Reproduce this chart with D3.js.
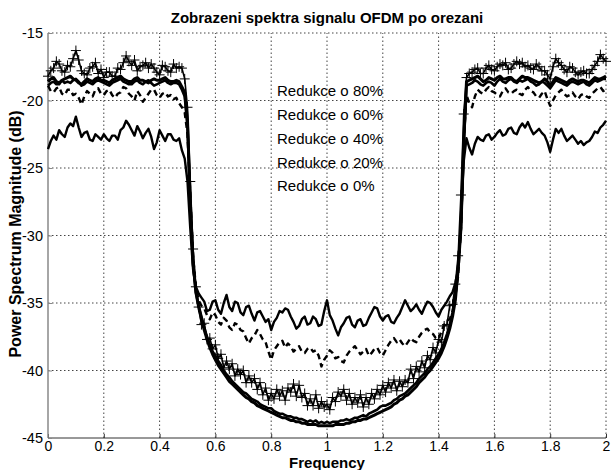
<!DOCTYPE html>
<html>
<head>
<meta charset="utf-8">
<script src="https://cdn.jsdelivr.net/npm/d3@7"></script>
<style>
body { margin: 0; background: #fff; }
text { font-family: "Liberation Sans", Arial, sans-serif; }
</style>
</head>
<body>
<script>
// frequency grid step (0 .. 2), one value per step in every series
var freqStep = 0.01;

// Redukce o 80% (solid, lowest in the passband)
var s80 = [
  -23.6, -23.0, -22.6, -22.9, -22.2, -22.5, -22.7, -22.0, -21.7, -21.9,
  -21.2, -22.0, -22.7, -22.4, -22.3, -22.9, -23.0, -22.5, -22.7, -22.9,
  -22.5, -22.8, -23.0, -22.6, -22.6, -22.9, -22.2, -22.0, -21.5, -21.8,
  -22.2, -22.6, -21.9, -22.3, -22.8, -22.4, -22.1, -22.7, -23.6, -23.1,
  -22.2, -22.6, -23.0, -22.5, -22.5, -22.9, -23.0, -22.8, -23.7, -24.3,
  -26.0, -29.5, -32.5, -33.8, -34.3, -34.6, -34.9, -35.6, -35.5, -34.9,
  -34.8, -35.5, -35.8, -35.0, -34.4, -35.3, -35.6, -34.9, -35.0, -35.7,
  -35.9, -35.3, -35.2, -35.8, -36.3, -35.7, -35.6, -36.0, -36.4, -36.2,
  -37.0, -36.4, -36.1, -35.6, -35.7, -35.4, -35.5, -36.0, -36.4, -36.9,
  -36.7, -36.2, -36.0, -36.6, -36.5, -36.0, -36.2, -36.7, -36.6, -35.6,
  -34.8, -35.9, -36.3, -36.9, -37.4, -36.8, -36.5, -36.1, -36.0, -36.6,
  -36.8, -36.3, -36.2, -36.7, -36.6, -36.1, -35.7, -35.3, -35.4, -36.0,
  -36.3, -36.0, -35.9, -36.4, -36.5, -36.1, -35.8, -35.3, -34.8, -35.2,
  -35.6, -35.4, -35.1, -35.5, -35.8, -35.3, -34.9, -35.0, -35.3, -35.7,
  -36.0, -35.5, -35.2, -34.9, -34.5, -34.2, -33.5, -32.5, -29.0, -24.5,
  -22.8, -23.5, -24.0, -23.2, -22.7, -22.9, -23.0, -22.6, -22.5, -22.9,
  -22.7, -22.4, -22.2, -22.6, -22.5, -22.1, -22.0, -22.4, -22.5, -22.0,
  -21.7, -22.0, -21.6, -22.1, -22.5, -22.3, -22.1, -22.4, -22.6, -23.1,
  -23.8, -22.9, -22.1, -22.4, -22.1, -22.6, -23.0, -22.8, -22.6, -22.9,
  -23.2, -23.0, -23.3, -23.1, -23.0, -22.7, -22.3, -22.4, -22.0, -21.8,
  -21.5
];

// Redukce o 60% (dashed)
var s60 = [
  -18.9, -19.3, -19.4, -19.1, -19.0, -19.5, -19.6, -19.2, -19.2, -19.6,
  -19.5, -19.8, -20.3, -19.7, -19.3, -19.5, -19.7, -19.2, -19.1, -19.5,
  -19.6, -19.3, -19.2, -19.6, -19.8, -19.5, -19.4, -19.0, -19.1, -19.5,
  -19.7, -20.0, -19.3, -19.6, -20.1, -19.8, -19.5, -19.2, -19.2, -19.6,
  -19.8, -19.5, -19.4, -19.7, -19.6, -19.9, -19.8, -20.2, -20.5, -20.9,
  -22.5, -27.0, -31.5, -33.8, -34.8, -35.2, -35.4, -35.9, -36.2, -35.7,
  -35.9, -36.4, -36.6, -36.1, -36.3, -36.8, -37.0, -36.5, -36.6, -37.0,
  -37.1, -37.6, -38.0, -37.6, -37.4, -37.0, -37.3, -37.7, -37.9, -38.6,
  -39.2, -38.5, -38.2, -37.9, -37.8, -38.3, -38.0, -38.2, -38.6, -38.4,
  -38.2, -38.6, -38.7, -38.4, -38.3, -38.6, -38.5, -38.9, -39.7, -39.2,
  -38.9, -38.5, -38.7, -39.1, -39.0, -39.3, -39.4, -38.9, -38.6, -38.4,
  -38.2, -38.5, -38.8, -38.6, -38.4, -38.9, -38.7, -38.4, -38.3, -38.7,
  -38.9, -38.5, -38.1, -37.8, -37.6, -37.9, -37.7, -38.0, -38.2, -37.9,
  -37.6, -37.8, -37.9, -37.5, -37.2, -37.0, -36.9, -37.2, -37.3, -37.6,
  -37.7, -37.1, -36.6, -36.3, -36.2, -35.6, -34.5, -33.0, -29.5, -23.0,
  -19.6, -20.2, -20.5, -19.7, -19.2, -19.4, -19.5, -19.2, -19.0, -19.3,
  -19.4, -19.6, -19.7, -19.3, -19.1, -19.4, -19.5, -19.3, -19.2, -19.5,
  -19.6, -19.2, -19.0, -19.3, -19.4, -19.7, -19.8, -19.5, -19.3, -19.9,
  -20.4, -20.0, -19.6, -19.4, -19.2, -19.5, -19.7, -19.6, -19.4, -19.7,
  -19.9, -19.6, -19.5, -19.7, -19.8, -19.5, -19.3, -19.1, -19.0, -19.3,
  -19.2
];

// Redukce o 40% (solid with + markers)
var s40 = [
  -18.2, -17.8, -17.6, -17.1, -17.3, -17.8, -17.9, -17.4, -17.5, -16.9,
  -16.3, -17.0, -17.8, -18.0, -18.1, -17.6, -17.5, -17.2, -18.0, -17.7,
  -18.3, -17.9, -17.9, -18.2, -18.2, -17.6, -17.7, -17.2, -16.7, -17.1,
  -17.4, -17.0, -17.8, -17.5, -17.4, -17.2, -17.6, -17.3, -17.6, -17.9,
  -18.1, -17.4, -17.5, -17.8, -17.9, -17.3, -17.6, -17.5, -17.6, -18.4,
  -20.5, -26.0, -31.0, -33.8, -35.3, -36.6, -36.5, -37.7, -37.6, -38.4,
  -38.1, -39.1, -38.8, -39.8, -39.3, -39.9, -39.5, -40.4, -39.9, -40.3,
  -40.0, -40.9, -40.4, -40.9, -40.6, -41.4, -40.9, -41.8, -41.3, -42.2,
  -41.7, -42.1, -41.4, -41.9, -41.5, -42.2, -41.3, -41.6, -41.0, -41.9,
  -41.1, -42.0, -41.7, -42.6, -42.1, -42.6, -41.8, -42.8, -42.3, -42.7,
  -42.5, -42.9, -42.0, -42.3, -41.6, -41.9, -41.4, -42.2, -41.7, -42.5,
  -42.0, -42.4, -41.8, -42.7, -42.0, -42.5, -41.7, -42.1, -41.4, -41.8,
  -41.1, -41.6, -40.9, -41.3, -40.7, -41.5, -40.8, -41.2, -40.7, -40.9,
  -39.9, -40.6, -39.7, -40.1, -39.3, -39.8, -38.9, -39.2, -38.3, -38.7,
  -37.7, -37.9, -36.7, -36.6, -35.2, -35.1, -33.6, -31.5, -27.0, -21.0,
  -18.3, -18.0, -17.9, -17.7, -17.6, -18.0, -18.0, -17.6, -17.4, -17.7,
  -17.8, -17.5, -17.3, -17.4, -17.2, -17.7, -17.6, -17.3, -17.1, -17.3,
  -17.2, -17.5, -17.4, -17.6, -17.7, -17.3, -17.5, -17.8, -17.8, -18.1,
  -18.4, -17.5, -16.9, -17.2, -17.4, -17.7, -17.9, -17.5, -17.6, -17.9,
  -18.1, -17.9, -17.8, -18.0, -18.0, -17.7, -17.4, -17.1, -16.6, -16.9,
  -17.1
];

// Redukce o 20% (solid, just above the bowl)
var s20 = [
  -18.9, -18.7, -18.6, -18.8, -18.8, -18.5, -18.7, -18.6, -18.7, -18.5,
  -18.4, -18.6, -18.9, -18.8, -18.6, -18.7, -18.8, -18.6, -18.5, -18.6,
  -18.7, -18.8, -18.9, -18.7, -18.6, -18.5, -18.4, -18.6, -18.7, -18.8,
  -18.8, -18.6, -18.5, -18.7, -18.8, -18.6, -18.5, -18.7, -18.9, -18.8,
  -18.7, -18.6, -18.5, -18.7, -18.8, -18.7, -18.7, -18.8, -19.2, -19.7,
  -22.0, -27.8, -32.2, -34.2, -35.2, -36.0, -36.8, -37.5, -38.1, -38.6,
  -38.9, -39.3, -39.6, -40.0, -40.3, -40.5, -40.8, -41.0, -41.2, -41.4,
  -41.6, -41.7, -41.9, -42.1, -42.2, -42.3, -42.5, -42.6, -42.7, -42.8,
  -42.8, -43.0, -43.1, -43.2, -43.2, -43.3, -43.4, -43.4, -43.5, -43.5,
  -43.6, -43.6, -43.7, -43.8, -43.7, -43.8, -43.7, -43.9, -43.8, -43.9,
  -43.8, -43.9, -43.8, -43.8, -43.8, -43.7, -43.7, -43.6, -43.7, -43.6,
  -43.5, -43.5, -43.4, -43.3, -43.4, -43.2, -43.1, -43.0, -42.9, -42.7,
  -42.6, -42.6, -42.5, -42.4, -42.2, -42.1, -41.9, -41.8, -41.7, -41.5,
  -41.3, -41.1, -40.9, -40.6, -40.4, -40.2, -39.9, -39.7, -39.4, -39.1,
  -38.8, -38.4, -37.9, -37.3, -36.6, -35.7, -34.5, -32.3, -29.5, -23.5,
  -18.9, -18.8, -18.7, -18.5, -18.6, -18.8, -18.9, -18.7, -18.6, -18.7,
  -18.9, -18.6, -18.4, -18.6, -18.7, -18.5, -18.4, -18.6, -18.7, -18.5,
  -18.6, -18.5, -18.4, -18.6, -18.7, -18.9, -18.8, -18.6, -18.7, -18.9,
  -19.1, -18.8, -18.5, -18.6, -18.7, -18.8, -18.9, -18.7, -18.6, -18.7,
  -18.8, -18.7, -18.6, -18.8, -18.9, -18.7, -18.5, -18.6, -18.5, -18.4,
  -18.4
];

// Redukce o 0% (thick bowl)
var s0 = [
  -18.6, -18.4, -18.3, -18.6, -18.7, -18.5, -18.4, -18.3, -18.2, -18.4,
  -18.5, -18.7, -18.8, -18.6, -18.4, -18.5, -18.6, -18.4, -18.3, -18.5,
  -18.5, -18.6, -18.7, -18.5, -18.4, -18.3, -18.2, -18.4, -18.5, -18.6,
  -18.6, -18.4, -18.3, -18.5, -18.5, -18.6, -18.7, -18.5, -18.4, -18.5,
  -18.5, -18.4, -18.3, -18.5, -18.6, -18.6, -18.5, -18.6, -19.0, -19.4,
  -21.5, -27.5, -32.0, -34.2, -35.3, -36.2, -37.0, -37.7, -38.3, -38.8,
  -39.2, -39.6, -39.9, -40.2, -40.5, -40.8, -41.0, -41.2, -41.4, -41.6,
  -41.8, -42.0, -42.1, -42.3, -42.4, -42.6, -42.7, -42.8, -42.9, -43.0,
  -43.1, -43.2, -43.3, -43.4, -43.5, -43.5, -43.6, -43.7, -43.7, -43.8,
  -43.8, -43.9, -43.9, -44.0, -44.0, -44.0, -44.0, -44.1, -44.1, -44.1,
  -44.1, -44.1, -44.1, -44.0, -44.0, -44.0, -44.0, -43.9, -43.9, -43.8,
  -43.8, -43.7, -43.7, -43.6, -43.6, -43.5, -43.4, -43.3, -43.2, -43.1,
  -43.0, -42.9, -42.8, -42.7, -42.5, -42.4, -42.2, -42.1, -41.9, -41.8,
  -41.6, -41.4, -41.2, -40.9, -40.7, -40.5, -40.2, -40.0, -39.7, -39.4,
  -39.1, -38.7, -38.2, -37.6, -36.9, -36.0, -34.8, -32.5, -29.5, -23.0,
  -18.6, -18.5, -18.4, -18.3, -18.2, -18.4, -18.6, -18.5, -18.3, -18.4,
  -18.5, -18.3, -18.2, -18.4, -18.4, -18.3, -18.3, -18.5, -18.6, -18.4,
  -18.2, -18.3, -18.3, -18.4, -18.5, -18.6, -18.7, -18.6, -18.4, -18.6,
  -18.9, -18.6, -18.3, -18.4, -18.5, -18.6, -18.7, -18.5, -18.4, -18.5,
  -18.6, -18.5, -18.5, -18.6, -18.7, -18.5, -18.3, -18.4, -18.4, -18.3,
  -18.2
];

var legendLabels = ["Redukce o 80%", "Redukce o 60%", "Redukce o 40%", "Redukce o 20%", "Redukce o 0%"];
var xTicks = [0, 0.2, 0.4, 0.6, 0.8, 1, 1.2, 1.4, 1.6, 1.8, 2];
var yTicks = [-45, -40, -35, -30, -25, -20, -15];

var width = 614, height = 470;
var margin = { top: 33, right: 8, bottom: 32, left: 48 };

var svg = d3.select("body").append("svg")
    .attr("width", width)
    .attr("height", height);

var x = d3.scaleLinear().domain([0, 2]).range([margin.left, width - margin.right]);
var y = d3.scaleLinear().domain([-45, -15]).range([height - margin.bottom, margin.top]);

// dotted grid
var grid = svg.append("g");
grid.selectAll("line.gx")
    .data(xTicks.filter((d) => d > 0))
    .join("line")
    .attr("x1", (d) => x(d)).attr("x2", (d) => x(d))
    .attr("y1", y(-45)).attr("y2", y(-15))
    .attr("stroke", "#444")
    .attr("stroke-width", 1)
    .attr("stroke-dasharray", "1.5,2.5");
grid.selectAll("line.gy")
    .data(yTicks.filter((d) => d > -45))
    .join("line")
    .attr("x1", x(0)).attr("x2", x(2))
    .attr("y1", (d) => y(d)).attr("y2", (d) => y(d))
    .attr("stroke", "#444")
    .attr("stroke-width", 1)
    .attr("stroke-dasharray", "1.5,2.5");

// axes
var xAxis = d3.axisBottom(x).tickValues(xTicks).tickSize(-4).tickPadding(3).tickFormat((d) => String(d));
var yAxis = d3.axisLeft(y).tickValues(yTicks).tickSize(-4).tickPadding(5).tickFormat((d) => String(d));

var gx = svg.append("g").attr("transform", "translate(0," + y(-45) + ")").call(xAxis);
var gy = svg.append("g").attr("transform", "translate(" + x(0) + ",0)").call(yAxis);
gx.select(".domain").attr("stroke", "#333").attr("d", "M" + x(0) + ",0H" + x(2));
gy.select(".domain").attr("stroke", "#888").attr("stroke-width", 1.5).attr("d", "M0," + y(-15) + "V" + y(-45));
gx.selectAll(".tick line").attr("stroke", "#333");
gy.selectAll(".tick line").attr("stroke", "#888");
gx.selectAll("text").attr("font-size", 14).attr("fill", "#000");
gy.selectAll("text").attr("font-size", 14.5).attr("fill", "#000");

// series
var freq = s0.map((d, i) => i * freqStep);
var line = d3.line()
    .x((d, i) => x(freq[i]))
    .y((d) => y(d));

var plot = svg.append("g");
var seriesStyle = [
    { data: s80, width: 2.4, dash: null },
    { data: s60, width: 2.4, dash: "6,4" },
    { data: s40, width: 1.6, dash: null },
    { data: s20, width: 2.6, dash: null },
    { data: s0, width: 3, dash: null }
];
plot.selectAll("path")
    .data(seriesStyle)
    .join("path")
    .attr("d", (d) => line(d.data))
    .attr("fill", "none")
    .attr("stroke", "#000")
    .attr("stroke-width", (d) => d.width)
    .attr("stroke-dasharray", (d) => d.dash)
    .attr("stroke-linejoin", "round");

// + markers on the 40% series
var ms = 5;
plot.selectAll("path.plus")
    .data(s40)
    .join("path")
    .attr("class", "plus")
    .attr("d", (d, i) => {
        let cx = x(freq[i]), cy = y(d);
        return "M" + (cx - ms) + "," + cy + "H" + (cx + ms) + "M" + cx + "," + (cy - ms) + "V" + (cy + ms);
    })
    .attr("stroke", "#000")
    .attr("stroke-width", 1)
    .attr("fill", "none");

// legend (text only)
svg.append("g")
    .selectAll("text")
    .data(legendLabels)
    .join("text")
    .attr("x", 277)
    .attr("y", (d, i) => 91 + i * 23.8)
    .attr("dy", "0.35em")
    .attr("font-size", 15)
    .text((d) => d);

// title and axis labels
svg.append("text")
    .attr("x", (x(0) + x(2)) / 2)
    .attr("y", 23)
    .attr("text-anchor", "middle")
    .attr("font-size", 15)
    .attr("font-weight", "bold")
    .text("Zobrazeni spektra signalu OFDM po orezani");

svg.append("text")
    .attr("x", (x(0) + x(2)) / 2)
    .attr("y", 468)
    .attr("text-anchor", "middle")
    .attr("font-size", 15)
    .attr("font-weight", "bold")
    .text("Frequency");

svg.append("text")
    .attr("transform", "translate(21,234) rotate(-90)")
    .attr("text-anchor", "middle")
    .attr("font-size", 16)
    .attr("font-weight", "bold")
    .text("Power Spectrum Magnitude (dB)");
</script>
</body>
</html>
